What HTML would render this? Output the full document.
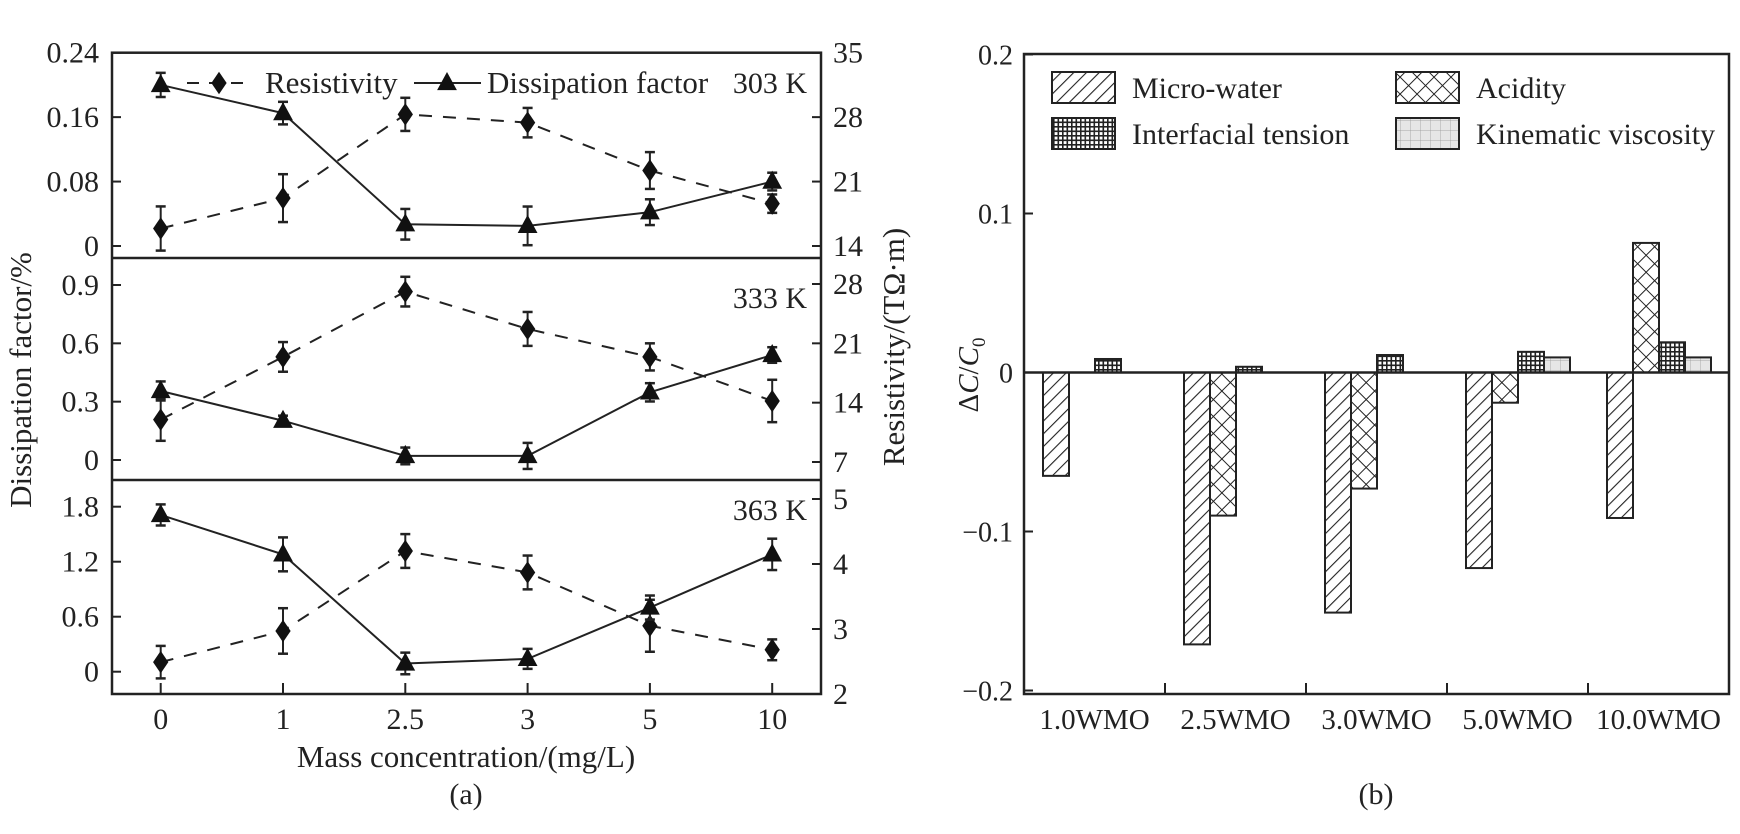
<!DOCTYPE html>
<html><head><meta charset="utf-8"><style>
html,body{margin:0;padding:0;background:#fff;}
svg{display:block;font-family:"Liberation Serif","DejaVu Serif",serif;}
</style></head><body>
<svg id="chart" width="1740" height="834" viewBox="0 0 1740 834" xmlns="http://www.w3.org/2000/svg">
<defs>
<pattern id="pDiag" patternUnits="userSpaceOnUse" width="9" height="9" patternTransform="rotate(45)">
<rect width="9" height="9" fill="#fff"/><line x1="0" y1="0" x2="0" y2="9" stroke="#222" stroke-width="2.2"/></pattern>
<pattern id="pCross" patternUnits="userSpaceOnUse" width="12" height="12" patternTransform="rotate(45)">
<rect width="12" height="12" fill="#fff"/><line x1="0" y1="0" x2="0" y2="12" stroke="#222" stroke-width="2"/><line x1="0" y1="0" x2="12" y2="0" stroke="#222" stroke-width="2"/></pattern>
<pattern id="pGrid" patternUnits="userSpaceOnUse" width="4.5" height="4.5">
<rect width="4.5" height="4.5" fill="#fff"/><rect width="4.5" height="1.6" fill="#222"/><rect width="1.6" height="4.5" fill="#222"/></pattern>
<pattern id="pLight" patternUnits="userSpaceOnUse" width="10" height="10">
<rect width="10" height="10" fill="#e6e6e6"/><line x1="0" y1="0" x2="10" y2="0" stroke="#999" stroke-width="0.8"/><line x1="0" y1="0" x2="0" y2="10" stroke="#999" stroke-width="0.8"/></pattern>
</defs>
<g id="pa"></g>
<g id="pb"></g>
</svg>
<script>
// ---------- Panel (a) data ----------
const concLabels = ["0","1","2.5","3","5","10"];
const df303 = [0.200,0.165,0.027,0.025,0.042,0.080];
const df303Err = [0.015,0.014,0.019,0.024,0.016,0.011];
const res303 = [15.9,19.2,28.3,27.4,22.2,18.6];
const res303Err = [2.4,2.6,1.8,1.6,2.0,1.0];
const df333 = [0.355,0.202,0.021,0.021,0.348,0.54];
const df333Err = [0.049,0.026,0.043,0.067,0.047,0.040];
const res333 = [12.0,19.4,27.1,22.7,19.4,14.2];
const res333Err = [2.5,1.75,1.75,2.0,1.6,2.5];
const df363 = [1.71,1.28,0.09,0.14,0.70,1.28];
const df363Err = [0.115,0.185,0.118,0.109,0.131,0.171];
const res363 = [2.49,2.97,4.20,3.87,3.05,2.68];
const res363Err = [0.25,0.35,0.26,0.26,0.40,0.16];
const ticks303L = [0,0.08,0.16,0.24], ticks303R = [14,21,28,35];
const ticks333L = [0,0.3,0.6,0.9], ticks333R = [7,14,21,28];
const ticks363L = [0,0.6,1.2,1.8], ticks363R = [2,3,4,5];
// ---------- Panel (b) data ----------
const groups = ["1.0WMO","2.5WMO","3.0WMO","5.0WMO","10.0WMO"];
const microWater = [-0.065,-0.171,-0.151,-0.123,-0.0915];
const acidity = [0,-0.090,-0.073,-0.019,0.0815];
const interfacial = [0.0085,0.0036,0.011,0.013,0.019];
const kinematic = [0,0,0,0.0095,0.0095];
const ticksB = [-0.2,-0.1,0,0.1,0.2];
const tickLabelsB = ["\u22120.2","\u22120.1","0","0.1","0.2"];

const NS="http://www.w3.org/2000/svg";
function mk(parent,tag,attrs,text){const e=document.createElementNS(NS,tag);for(const k in attrs)e.setAttribute(k,attrs[k]);if(text!==undefined)e.textContent=text;parent.appendChild(e);return e;}
const lin=(d0,d1,r0,r1)=>v=>r0+(v-d0)*(r1-r0)/(d1-d0);
const FA=30;

const pa=document.getElementById('pa');
const L=112,R=821;
const xA=i=>160.7+i*122.3;
const panels=[
 {name:"303k",label:"303 K",yl:lin(0,0.24,246,52.7),yr:lin(14,35,246,52.7),df:df303,dfe:df303Err,rs:res303,rse:res303Err,tl:ticks303L,tr:ticks303R,fmtL:v=>v===0?"0":v.toFixed(2),ly:83},
 {name:"333k",label:"333 K",yl:lin(0,0.9,460,285),yr:lin(7,28,462,284),df:df333,dfe:df333Err,rs:res333,rse:res333Err,tl:ticks333L,tr:ticks333R,fmtL:v=>v===0?"0":v.toFixed(1),ly:298},
 {name:"363k",label:"363 K",yl:lin(0,1.8,671.7,506.7),yr:lin(2,5,694,499),df:df363,dfe:df363Err,rs:res363,rse:res363Err,tl:ticks363L,tr:ticks363R,fmtL:v=>v===0?"0":v.toFixed(1),ly:510}
];
function diamond(g,x,y,s){return mk(g,'polygon',{points:`${x},${y-s*1.25} ${x+s*0.85},${y} ${x},${y+s*1.25} ${x-s*0.85},${y}`,fill:'#111'});}
function tri(g,x,y,s){return mk(g,'polygon',{points:`${x},${y-s} ${x+s*0.9},${y+s*0.65} ${x-s*0.9},${y+s*0.65}`,fill:'#111'});}
function errbar(g,x,y0,y1){mk(g,'line',{x1:x,y1:y0,x2:x,y2:y1,stroke:'#222','stroke-width':2});mk(g,'line',{x1:x-5,y1:y0,x2:x+5,y2:y0,stroke:'#222','stroke-width':2.5});mk(g,'line',{x1:x-5,y1:y1,x2:x+5,y2:y1,stroke:'#222','stroke-width':2.5});}

panels.forEach(p=>{
 const g=mk(pa,'g',{});
 
 
 p.tl.forEach(v=>{const y=p.yl(v);
  mk(g,'line',{x1:L,y1:y,x2:L+9,y2:y,stroke:'#222','stroke-width':2});
  const tx=mk(g,'text',{x:99,y:y+10,'font-size':FA,'text-anchor':'end',fill:'#222'},p.fmtL(v));
  
  
 });
 p.tr.forEach(v=>{const y=p.yr(v);
  mk(g,'line',{x1:R-9,y1:y,x2:R,y2:y,stroke:'#222','stroke-width':2});
  const tx=mk(g,'text',{x:833,y:y+10,'font-size':FA,fill:'#222'},String(v));
  
  
 });
 const rp=p.rs.map((v,i)=>xA(i)+','+p.yr(v)).join(' ');
 const rl=mk(g,'polyline',{points:rp,fill:'none',stroke:'#222','stroke-width':2,'stroke-dasharray':'13 11'});
 
 
 const dp=p.df.map((v,i)=>xA(i)+','+p.yl(v)).join(' ');
 const dl=mk(g,'polyline',{points:dp,fill:'none',stroke:'#222','stroke-width':2});
 
 
 p.rs.forEach((v,i)=>{errbar(g,xA(i),p.yr(v-p.rse[i]),p.yr(v+p.rse[i]));
  const d=diamond(g,xA(i),p.yr(v),9);
  
  });
 p.df.forEach((v,i)=>{errbar(g,xA(i),p.yl(v-p.dfe[i]),p.yl(v+p.dfe[i]));
  const t=tri(g,xA(i),p.yl(v),11);
  
  });
 const lb=mk(g,'text',{x:807,y:p.ly+10,'font-size':FA,'text-anchor':'end',fill:'#222'},p.label);
 
 
});
mk(pa,'rect',{x:L,y:52.7,width:R-L,height:694-52.7,fill:'none',stroke:'#222','stroke-width':2.5});
mk(pa,'line',{x1:L,y1:258,x2:R,y2:258,stroke:'#222','stroke-width':2.5});
mk(pa,'line',{x1:L,y1:480,x2:R,y2:480,stroke:'#222','stroke-width':2.5});
concLabels.forEach((c,i)=>{
 mk(pa,'line',{x1:xA(i),y1:694,x2:xA(i),y2:683,stroke:'#222','stroke-width':2});
 const t=mk(pa,'text',{x:xA(i),y:729,'font-size':FA,'text-anchor':'middle',fill:'#222'},c);
 
 
});
const lg=mk(pa,'g',{});


mk(lg,'line',{x1:187,y1:83,x2:250,y2:83,stroke:'#222','stroke-width':2,'stroke-dasharray':'12 10'});
diamond(lg,219,83,9);
mk(lg,'text',{x:265,y:93,'font-size':31,fill:'#222'},'Resistivity');
mk(lg,'line',{x1:414,y1:83,x2:481,y2:83,stroke:'#222','stroke-width':2});
tri(lg,447,83,11);
mk(lg,'text',{x:487,y:93,'font-size':31,fill:'#222'},'Dissipation factor');
let t;
t=mk(pa,'text',{x:466,y:767,'font-size':31,'text-anchor':'middle',fill:'#222'},'Mass concentration/(mg/L)');

t=mk(pa,'text',{x:466,y:804,'font-size':30,'text-anchor':'middle',fill:'#222'},'(a)');

t=mk(pa,'text',{x:0,y:0,'font-size':31,'text-anchor':'middle',fill:'#222',transform:'translate(31,380) rotate(-90)'},'Dissipation factor/%');

t=mk(pa,'text',{x:0,y:0,'font-size':31,'text-anchor':'middle',fill:'#222',transform:'translate(904,347) rotate(-90)'},'Resistivity/(T\u03A9\u00B7m)');


// ---------- Panel (b) ----------
const pb=document.getElementById('pb');
const BL=1024,BR=1729,BT=54,BB=694;
const yB=lin(0,0.1,372.5,213.5);
const catW=(BR-BL)/groups.length, barW=26;
const series=[{n:'micro-water',d:microWater,f:'url(#pDiag)'},{n:'acidity',d:acidity,f:'url(#pCross)'},{n:'interfacial-tension',d:interfacial,f:'url(#pGrid)'},{n:'kinematic-viscosity',d:kinematic,f:'url(#pLight)'}];
series.forEach((s,k)=>{
 s.d.forEach((v,i)=>{
  if(v===0)return;
  const x=BL+catW*i+19+barW*k;
  const y0=yB(0),y1=yB(v);
  const r=mk(pb,'rect',{x:x,y:Math.min(y0,y1),width:barW,height:Math.abs(y1-y0),fill:s.f,stroke:'#222','stroke-width':2});
  
  
 });
});
mk(pb,'line',{x1:BL,y1:yB(0),x2:BR,y2:yB(0),stroke:'#222','stroke-width':2.5});
mk(pb,'rect',{x:BL,y:BT,width:BR-BL,height:BB-BT,fill:'none',stroke:'#222','stroke-width':2.5});
ticksB.forEach((v,i)=>{const y=yB(v);
 mk(pb,'line',{x1:BL,y1:y,x2:BL+9,y2:y,stroke:'#222','stroke-width':2});
 const tx=mk(pb,'text',{x:1013,y:y+10,'font-size':28,'text-anchor':'end',fill:'#222'},tickLabelsB[i]);
 
 
});
groups.forEach((gname,i)=>{
 if(i>0)mk(pb,'line',{x1:BL+catW*i,y1:BB,x2:BL+catW*i,y2:BB-11,stroke:'#222','stroke-width':2});
 const tx=mk(pb,'text',{x:BL+catW*(i+0.5),y:729,'font-size':29,'text-anchor':'middle',fill:'#222'},gname);
 
 
});
const lb2=mk(pb,'g',{});


[[1052,72,'url(#pDiag)','Micro-water'],[1396,72,'url(#pCross)','Acidity'],[1052,118,'url(#pGrid)','Interfacial tension'],[1396,118,'url(#pLight)','Kinematic viscosity']].forEach(a=>{
 const e=mk(lb2,'g',{});
 
 
 mk(e,'rect',{x:a[0],y:a[1],width:63,height:31,fill:a[2],stroke:'#222','stroke-width':2});
 mk(e,'text',{x:a[0]+80,y:a[1]+26,'font-size':30,fill:'#222'},a[3]);
});
t=mk(pb,'text',{x:0,y:0,'font-size':29,'text-anchor':'middle',fill:'#222',transform:'translate(978,375) rotate(-90)'});

t.innerHTML='\u0394<tspan font-style="italic">C</tspan>/<tspan font-style="italic">C</tspan><tspan font-size="19" dy="7">0</tspan>';
t=mk(pb,'text',{x:1376,y:804,'font-size':30,'text-anchor':'middle',fill:'#222'},'(b)');

</script>
</body></html>
